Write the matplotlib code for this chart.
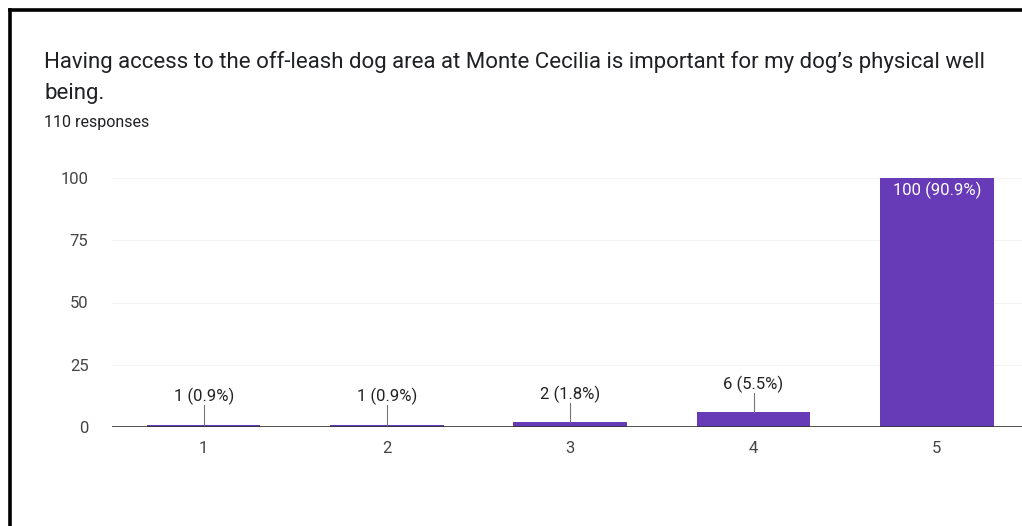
import matplotlib
matplotlib.use("Agg")
import matplotlib.pyplot as plt
from matplotlib.lines import Line2D

plt.rcParams['font.family'] = ['Roboto', 'DejaVu Sans']

title_line1 = "Having access to the off-leash dog area at Monte Cecilia is important for my dog\u2019s physical well"
title_line2 = "being."
subtitle = "110 responses"
categories = ["1", "2", "3", "4", "5"]
counts = [1, 1, 2, 6, 100]
percents = ["0.9%", "0.9%", "1.8%", "5.5%", "90.9%"]
yticks = [0, 25, 50, 75, 100]

W, H = 1022, 526
fig = plt.figure(figsize=(W / 100, H / 100), dpi=100)
fig.patch.set_facecolor("white")

# frame border (top + left)
fig.add_artist(Line2D([9.5 / W, 9.5 / W], [0, 1 - 10 / H], transform=fig.transFigure,
                      color="black", lw=2.6, solid_capstyle="projecting"))
fig.add_artist(Line2D([9.5 / W, 1], [1 - 10 / H, 1 - 10 / H], transform=fig.transFigure,
                      color="black", lw=2.6, solid_capstyle="projecting"))

fig.text(44 / W, 1 - 62 / H, title_line1, fontsize=16.0, color="#202124", va="center", ha="left")
fig.text(44 / W, 1 - 94 / H, title_line2, fontsize=16.0, color="#202124", va="center", ha="left")
fig.text(44 / W, 1 - 122 / H, subtitle, fontsize=11.5, color="#202124", va="center", ha="left")

# axes: x from 112 px to beyond right edge, y: 0 at 427, 100 at 178
px_per_unit_x = 183.3
x_left_px = 112
x_right_px = x_left_px + 5 * px_per_unit_x
y0_px = 427
y100_px = 178
ymax = 104
ytop_px = y0_px - (y0_px - y100_px) * ymax / 100
ax = fig.add_axes([x_left_px / W, 1 - y0_px / H, (x_right_px - x_left_px) / W, (y0_px - ytop_px) / H])
ax.set_xlim(0.5, 5.5)
ax.set_ylim(0, ymax)
ax.patch.set_alpha(0)

xs = list(range(1, len(categories) + 1))
ax.bar(xs, counts, width=0.62, color="#673AB7", zorder=2)

for v in yticks[1:]:
    ax.axhline(v, color="#f3f3f3", lw=0.8, zorder=1)
ax.axhline(0, color="#333333", lw=1.2, zorder=3)

for s in ax.spines.values():
    s.set_visible(False)
ax.set_yticks(yticks)
ax.set_yticklabels([str(v) for v in yticks])
ax.set_xticks(xs)
ax.set_xticklabels(categories)
ax.tick_params(axis="both", length=0, labelsize=12, labelcolor="#444444")
ax.tick_params(axis="y", pad=17)
ax.tick_params(axis="x", pad=10)

for x, c, p in zip(xs, counts, percents):
    label = f"{c} ({p})"
    if c > 50:
        ax.text(x, c - 4.8, label, ha="center", va="center", fontsize=12, color="white", zorder=4)
    else:
        ax.plot([x, x], [c, c + 7.7], color="#777777", lw=0.8, zorder=3)
        ax.text(x, c + 7.7, label, ha="center", va="bottom", fontsize=12, color="#222222", zorder=4)

fig.savefig("out.png", dpi=100)
